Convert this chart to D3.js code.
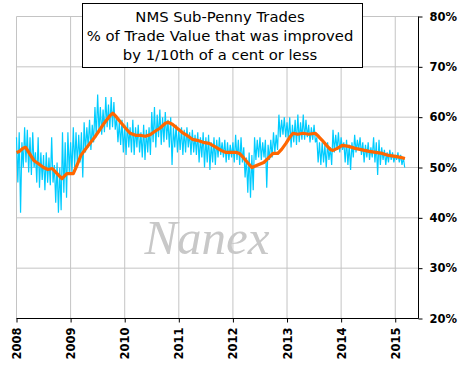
<!DOCTYPE html>
<html>
<head>
<meta charset="utf-8">
<script src="https://cdn.jsdelivr.net/npm/d3@7"></script>
<style>
  body { margin: 0; background: #fff; }
  svg { display: block; }
</style>
</head>
<body>
<div id="chart"></div>
<script>
// chart values
var titleLines = ["NMS Sub-Penny Trades", "% of Trade Value that was improved", "by 1/10th of a cent or less"];
var yearTicks = [2008, 2009, 2010, 2011, 2012, 2013, 2014, 2015];
var pctTicks = [20, 30, 40, 50, 60, 70, 80];

// daily series, kept as high / low per 0.05 year starting at 2008.00
var dailyStart = 2008.0, dailyStep = 0.05;
var dailyHigh = [56,57,55,58,57.5,56,57,53,56,53, 52.5,53,52,56,50.5,51,50,57,55,57,
  55,58,57,56.5,57,59,58,59.5,58.5,62, 64.5,62,61.5,64,62.5,64,63,60,59,59.5,
  58.5,59,58,59.5,58,58.5,57,58.5,57.5,58, 61,62,60.5,61.5,60,61,59.5,60,58,58.5,
  57.5,58,57.5,58,57,57.5,56.5,57,56,57, 56,56.5,55,56,55.5,56,55,55.5,55,54.5,
  55,56.5,55.5,56,54,52,53,52.5,56,55.5, 56,55,55.5,54.5,55.5,57,56.5,60.5,59.5,60,
  59,60,58.5,59.5,60.5,59,60.5,59.5,58.5,58, 58.5,56,55,55,54.5,55,54,57.5,56.5,57,
  56,55,55.5,54.5,55,56.5,55.5,56,55,54.5, 55,54,56,55,55.5,54,53.5,53,53.5,53,
  52.5,53,52.5,52];
var dailyLow = [47,41,50,51,49,48.5,50,47,46,47.5, 45.5,47,46.5,47,43,41,41.5,45,44,49,
  49,50,50.5,51,48,53,54,53.5,55,56, 57,56.5,57,58,57.5,58,57.5,55,54.5,53,
  52.5,54,53,52.5,54,53,52,51.5,53,52.5, 55,54,56,54.5,55,55.5,54,50.5,54,53,
  53.5,52.5,53,54,52.5,53,52.5,51,52,50, 51,49.5,51,50.5,52,52.5,52,51,51.5,52,
  51,51.5,50.5,51,48,45,44,45.5,51.5,52, 51.5,52,46,51.5,52,53,53.5,56,56.5,56,
  55.5,54,55,54.5,55,55.5,55.5,56,55,55.5, 55,51,50.5,51,50,51.5,50.5,53,53.5,53,
  53.5,51,50.5,49.5,52,53,53.5,52.5,51,52, 51.5,52,51,48.5,50.5,51.5,50.5,51,51.5,51,
  51.5,51,50.5,50];

// moving average (orange)
var maYears = [2008.0,2008.05,2008.12,2008.17,2008.25,2008.32,2008.4,2008.5,2008.58,2008.66,
  2008.75,2008.84,2008.93,2009.05,2009.12,2009.19,2009.3,2009.43,2009.52,2009.62,
  2009.72,2009.78,2009.85,2009.91,2010.0,2010.1,2010.2,2010.28,2010.38,2010.47,
  2010.56,2010.65,2010.75,2010.8,2010.88,2010.97,2011.06,2011.15,2011.25,2011.34,
  2011.45,2011.56,2011.69,2011.78,2011.87,2011.96,2012.06,2012.12,2012.19,2012.27,
  2012.35,2012.48,2012.57,2012.65,2012.74,2012.83,2012.9,2012.98,2013.05,2013.11,
  2013.2,2013.3,2013.4,2013.52,2013.58,2013.65,2013.73,2013.8,2013.85,2013.93,
  2014.02,2014.14,2014.26,2014.39,2014.52,2014.64,2014.76,2014.88,2015.0,2015.1,2015.18];
var maValues = [53.0,53.2,53.8,54.0,52.6,51.4,50.8,50.0,49.6,49.8,
  48.8,47.8,48.8,48.8,50.5,52.4,54.0,55.8,57.2,58.8,
  60.2,60.8,60.0,59.2,58.0,56.8,56.4,56.4,56.2,56.5,
  57.2,57.8,58.8,59.0,58.6,57.8,57.0,56.4,55.6,55.4,
  55.0,54.8,54.0,53.4,53.0,53.0,53.0,52.8,52.0,51.0,
  50.0,50.6,51.0,51.8,52.8,52.8,53.6,54.8,56.0,56.8,
  56.6,56.8,56.6,56.8,56.2,55.4,54.4,53.6,53.4,53.8,
  54.4,54.2,53.8,53.5,53.2,53.0,52.8,52.4,52.2,52.0,51.8];

var W = 461, H = 369;
var svg = d3.select("#chart").append("svg")
  .attr("width", W)
  .attr("height", H)
  .style("font-family", "'DejaVu Sans', sans-serif");

var x = d3.scaleLinear().domain([2008, 2015.43]).range([16.5, 418.5]);
var y = d3.scaleLinear().domain([20, 80]).range([318.5, 16.5]);

// grid
var grid = svg.append("g").attr("class", "grid");
grid.selectAll(".vg")
  .data(yearTicks)
  .enter().append("line")
  .attr("x1", function (d) { return x(d); })
  .attr("x2", function (d) { return x(d); })
  .attr("y1", y(80))
  .attr("y2", y(20))
  .attr("stroke", "#c4c4c4");
grid.selectAll(".hg")
  .data(pctTicks)
  .enter().append("line")
  .attr("x1", x(2008))
  .attr("x2", x.range()[1])
  .attr("y1", function (d) { return y(d); })
  .attr("y2", function (d) { return y(d); })
  .attr("stroke", "#c4c4c4");

// watermark
svg.append("text")
  .attr("x", 207)
  .attr("y", 254)
  .attr("text-anchor", "middle")
  .style("font-family", "'Liberation Serif', 'DejaVu Serif', serif")
  .style("font-style", "italic")
  .style("font-size", "49px")
  .attr("fill", "#c8c8c8")
  .text("Nanex");

// daily series as a hi/lo zigzag
var pts = [];
dailyHigh.forEach(function (h, i) {
  var t = dailyStart + i * dailyStep;
  pts.push([t, h]);
  pts.push([t + dailyStep / 2, dailyLow[i]]);
});
var line = d3.line()
  .x(function (d) { return x(d[0]); })
  .y(function (d) { return y(d[1]); });
svg.append("path")
  .datum(pts)
  .attr("d", line)
  .attr("fill", "none")
  .attr("stroke", "#00ccff")
  .attr("stroke-width", 1.2);

// moving average
svg.append("path")
  .datum(d3.zip(maYears, maValues))
  .attr("d", line)
  .attr("fill", "none")
  .attr("stroke", "#ff6600")
  .attr("stroke-width", 3.2)
  .attr("stroke-linejoin", "round");

// axes
var yAxis = d3.axisRight(y)
  .tickValues(pctTicks)
  .tickSize(4)
  .tickFormat(function (d) { return d + "%"; });
var gy = svg.append("g")
  .attr("transform", "translate(" + x.range()[1] + ",0)")
  .call(yAxis);
gy.select(".domain").attr("d", "M0," + y(80) + "V" + y(20));
gy.selectAll("text")
  .attr("x", 11)
  .style("font-size", "11.5px")
  .style("font-weight", "bold")
  .style("font-family", "'DejaVu Sans', sans-serif")
  .attr("fill", "#000");

var xAxis = d3.axisBottom(x)
  .tickValues(yearTicks)
  .tickSize(4)
  .tickFormat(d3.format("d"));
var gx = svg.append("g")
  .attr("transform", "translate(0," + y(20) + ")")
  .call(xAxis);
gx.select(".domain").attr("d", "M" + x(2008) + ",0H" + x.range()[1]);
gx.selectAll("text")
  .attr("transform", "rotate(-90)")
  .attr("x", -9)
  .attr("y", 0)
  .attr("dy", "0.35em")
  .attr("text-anchor", "end")
  .style("font-size", "11.5px")
  .style("font-weight", "bold")
  .style("font-family", "'DejaVu Sans', sans-serif")
  .attr("fill", "#000");

// title box
var tb = svg.append("g");
tb.append("rect")
  .attr("x", 82.5)
  .attr("y", 3.5)
  .attr("width", 280)
  .attr("height", 64)
  .attr("fill", "#fff")
  .attr("stroke", "#000");
tb.selectAll("text")
  .data(titleLines)
  .enter().append("text")
  .attr("x", 220)
  .attr("y", function (d, i) { return 22 + i * 19; })
  .attr("text-anchor", "middle")
  .style("font-size", "14.8px")
  .text(function (d) { return d; });
</script>
</body>
</html>
